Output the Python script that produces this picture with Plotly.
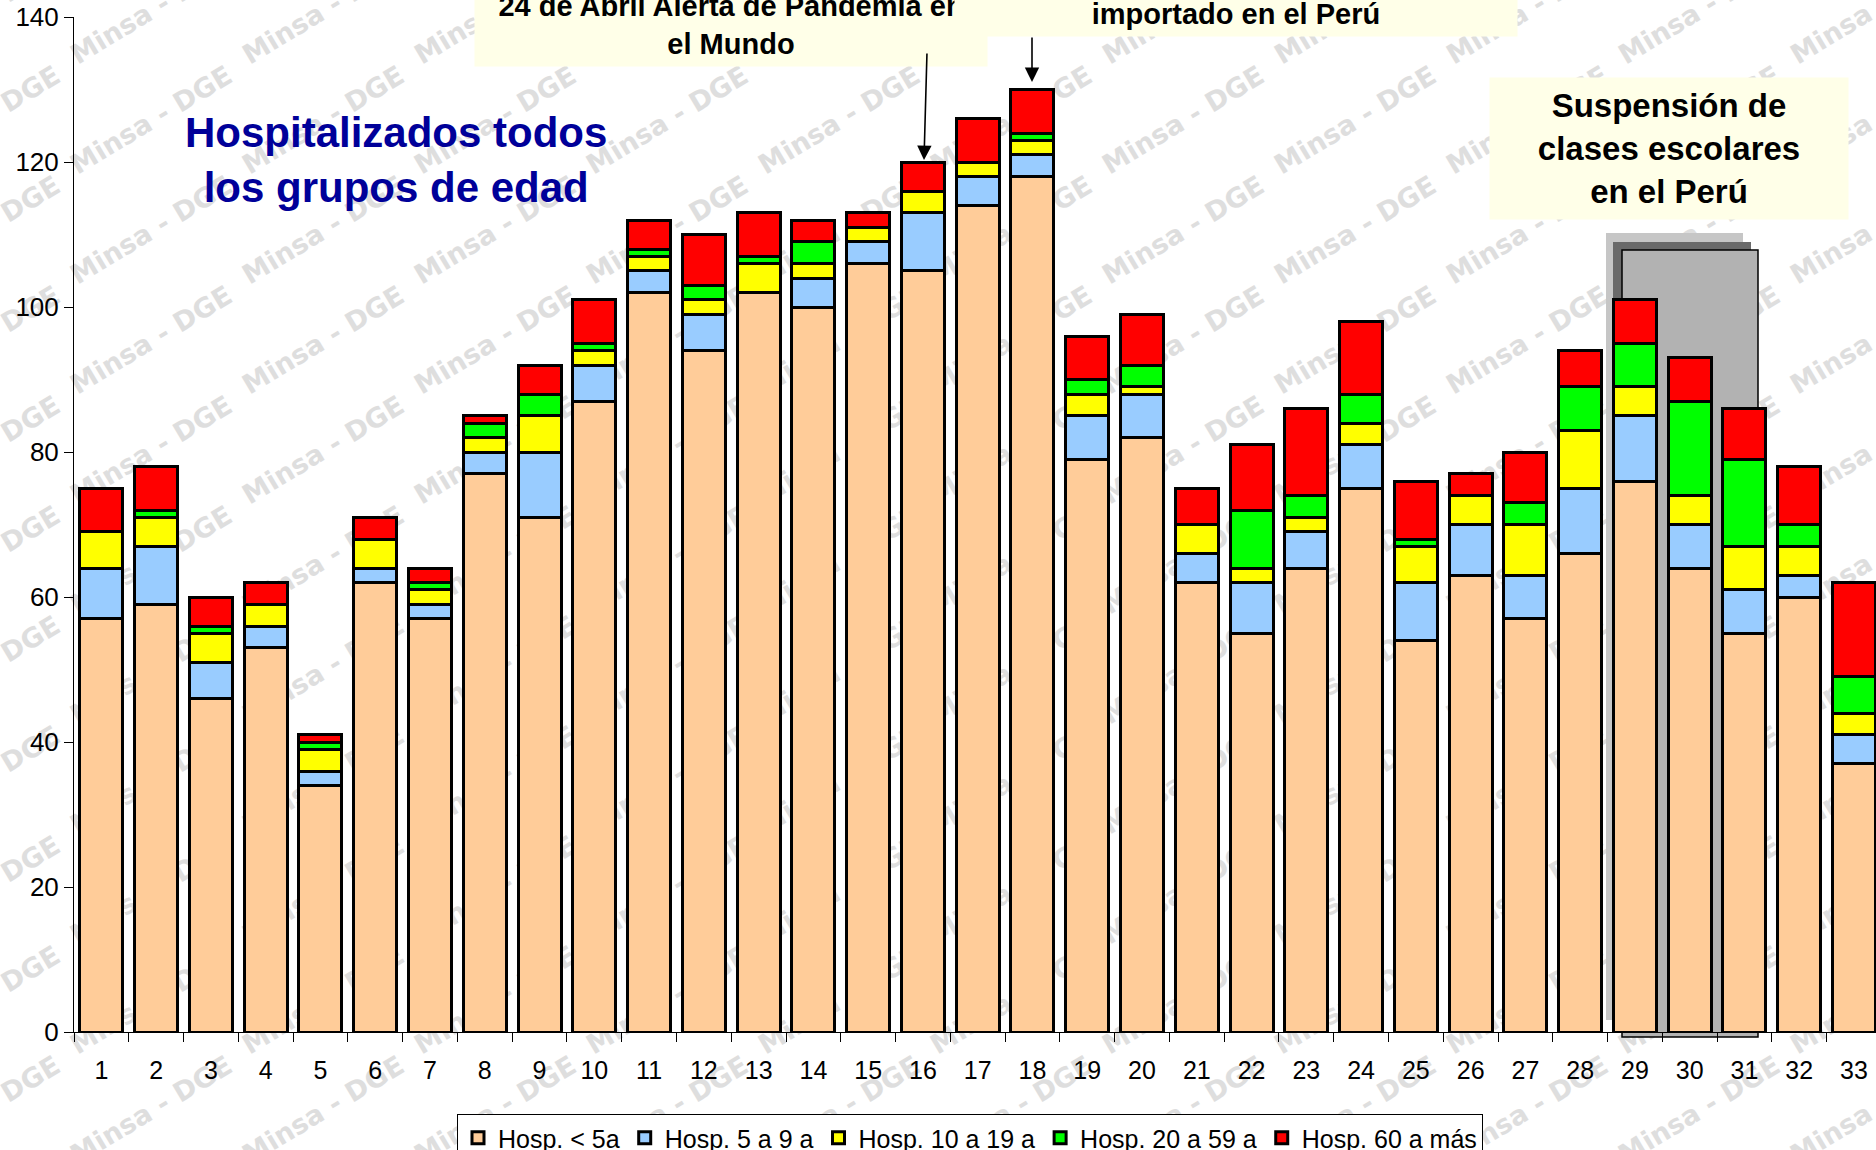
import plotly.graph_objects as go

# ---------------- data ----------------
semanas = [str(i) for i in range(1, 34)]
hosp_menor_5 = [57, 59, 46, 53, 34, 62, 57, 77, 71, 87, 102, 94, 102, 100, 106, 105, 114,
                118, 79, 82, 62, 55, 64, 75, 54, 63, 57, 66, 76, 64, 55, 60, 37]
hosp_5_9 = [7, 8, 5, 3, 2, 2, 2, 3, 9, 5, 3, 5, 0, 4, 3, 8, 4,
            3, 6, 6, 4, 7, 5, 6, 8, 7, 6, 9, 9, 6, 6, 3, 4]
hosp_10_19 = [5, 4, 4, 3, 3, 4, 2, 2, 5, 2, 2, 2, 4, 2, 2, 3, 2,
              2, 3, 1, 4, 2, 2, 3, 5, 4, 7, 8, 4, 4, 6, 4, 3]
hosp_20_59 = [0, 1, 1, 0, 1, 0, 1, 2, 3, 1, 1, 2, 1, 3, 0, 0, 0,
              1, 2, 3, 0, 8, 3, 4, 1, 0, 3, 6, 6, 13, 12, 3, 5]
hosp_60_mas = [6, 6, 4, 3, 1, 3, 2, 1, 4, 6, 4, 7, 6, 3, 2, 4, 6,
               6, 6, 7, 5, 9, 12, 10, 8, 3, 7, 5, 6, 6, 7, 8, 13]

series_names = ["Hosp. < 5a", "Hosp. 5 a 9 a", "Hosp. 10 a 19 a", "Hosp. 20 a 59 a", "Hosp. 60 a más"]
series_values = [hosp_menor_5, hosp_5_9, hosp_10_19, hosp_20_59, hosp_60_mas]
series_colors = ["#FFCC99", "#99CCFF", "#FFFF00", "#00FF00", "#FF0000"]

y_ticks = [0, 20, 40, 60, 80, 100, 120, 140]

# ---------------- layout geometry (pixels) ----------------
FW, FH = 1876, 1150
L, R, T, B = 74, 1876, 17, 1032
W, H = R - L, B - T


def xp(px):
    return (px - L) / W


def yp(py):
    return (B - py) / H


FONT = "Liberation Sans, Arial, Helvetica, sans-serif"
x_pos = list(range(1, len(semanas) + 1))

fig = go.Figure()
for name, vals, col in zip(series_names, series_values, series_colors):
    fig.add_trace(go.Bar(
        x=x_pos, y=vals, name=name,
        marker=dict(color=col, line=dict(color="black", width=3)),
    ))

shapes = []
# watermark "Minsa - DGE" tiles (behind everything)
for k in range(-1, 12):
    for m in range(-1, 11):
        cx, cy = 150 + 172 * k, 118 + 110 * m
        shapes.append(dict(
            type="rect", xref="paper", yref="paper", layer="below",
            x0=xp(cx - 1), x1=xp(cx + 1), y0=yp(cy + 1), y1=yp(cy - 1),
            line=dict(width=0), fillcolor="rgba(0,0,0,0)",
            label=dict(text="Minsa - DGE", textangle=-31, textposition="middle center",
                       font=dict(size=27, color="#DEDEDE", family="DejaVu Sans", weight="bold")),
        ))

# grey "school suspension" box with hatched shadow
shapes.append(dict(type="rect", xref="paper", yref="paper", layer="below",
                   x0=xp(1606), x1=xp(1743), y0=yp(1020), y1=yp(233),
                   line=dict(width=0), fillcolor="#C6C6C6"))
shapes.append(dict(type="rect", xref="paper", yref="paper", layer="below",
                   x0=xp(1613), x1=xp(1751), y0=yp(1030), y1=yp(242),
                   line=dict(width=0), fillcolor="#6A6A6A"))
shapes.append(dict(type="rect", xref="paper", yref="paper", layer="below",
                   x0=xp(1622), x1=xp(1758), y0=yp(1037), y1=yp(250),
                   line=dict(width=1.5, color="black"), fillcolor="#B2B2B2"))

annotations = [
    # title
    dict(xref="paper", yref="paper", x=xp(396), y=yp(160), xanchor="center", yanchor="middle",
         text="<b>Hospitalizados todos<br>los grupos de edad</b>", showarrow=False,
         font=dict(family=FONT, size=42, color="#000099")),
    # box 1
    dict(xref="paper", yref="paper", x=xp(731), y=yp(67), xanchor="center", yanchor="bottom",
         text="<b>24 de Abril Alerta de Pandemia en<br>el Mundo</b>", showarrow=False,
         width=500, height=100, valign="bottom", borderpad=6, bgcolor="#FFFFE8",
         font=dict(family=FONT, size=29, color="black")),
    # box 2
    dict(xref="paper", yref="paper", x=xp(1236), y=yp(37), xanchor="center", yanchor="bottom",
         text="<b>importado en el Perú</b>", showarrow=False,
         width=550, height=100, valign="bottom", borderpad=6, bgcolor="#FFFFE8",
         font=dict(family=FONT, size=29, color="black")),
    # box 3
    dict(xref="paper", yref="paper", x=xp(1669), y=yp(148), xanchor="center", yanchor="middle",
         text="<b>Suspensión de<br>clases escolares<br>en el Perú</b>", showarrow=False,
         width=346, height=129, borderpad=6, bgcolor="#FFFFE8",
         font=dict(family=FONT, size=33, color="black")),
    # arrows
    dict(xref="paper", yref="paper", x=xp(924), y=yp(160), text="", showarrow=True,
         ax=3, ay=-108, axref="pixel", ayref="pixel", arrowhead=2, arrowsize=1.8,
         arrowwidth=1.6, arrowcolor="black", standoff=0),
    dict(xref="paper", yref="paper", x=xp(1032), y=yp(82), text="", showarrow=True,
         ax=0, ay=-46, axref="pixel", ayref="pixel", arrowhead=2, arrowsize=1.8,
         arrowwidth=1.6, arrowcolor="black", standoff=0),
]

fig.update_layout(
    width=FW, height=FH,
    margin=dict(l=L, r=FW - R, t=T, b=FH - B, autoexpand=False),
    paper_bgcolor="white", plot_bgcolor="rgba(0,0,0,0)",
    barmode="stack", bargap=0.215,
    font=dict(family=FONT, color="black"),
    shapes=shapes, annotations=annotations,
    showlegend=True,
    legend=dict(orientation="h", x=xp(457), y=yp(1114), xanchor="left", yanchor="top",
                bgcolor="white", bordercolor="black", borderwidth=1,
                font=dict(family=FONT, size=25, color="black"),
                itemwidth=30, traceorder="normal"),
    xaxis=dict(range=[0.5, 0.5 + W / 54.77], tickvals=x_pos, ticktext=semanas,
               ticks="", showgrid=False, zeroline=False,
               showline=True, linecolor="black", linewidth=1,
               ticklabelstandoff=16,
               tickfont=dict(family=FONT, size=25, color="black"),
               minor=dict(tickvals=[i + 0.5 for i in range(0, len(semanas))],
                          ticks="outside", ticklen=9, tickcolor="black", tickwidth=1)),
    yaxis=dict(range=[0, 140], tickvals=y_ticks, ticks="outside", ticklen=9,
               tickcolor="black", showgrid=False, zeroline=False,
               showline=True, linecolor="black", linewidth=1,
               tickfont=dict(family=FONT, size=26, color="black")),
)

fig.write_html("out.html", config={"displayModeBar": False},
               post_script="document.body.style.margin='0';document.body.style.overflow='hidden';")
